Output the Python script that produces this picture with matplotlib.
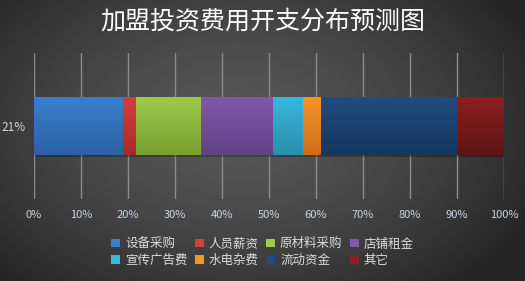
import numpy as np
import matplotlib
matplotlib.use("Agg")
import matplotlib.pyplot as plt
from matplotlib.colors import LinearSegmentedColormap, to_rgb

plt.rcParams['font.family'] = ['Noto Sans CJK SC', 'DejaVu Sans']

category = ["21%"]
series = ["设备采购", "人员薪资", "原材料采购", "店铺租金", "宣传广告费", "水电杂费", "流动资金", "其它"]
values = [19.0, 2.6, 13.9, 15.3, 6.4, 3.8, 29.1, 9.9]
top_colors = ["#3b7fcc", "#d63f3a", "#a0ca4c", "#8158aa", "#3bb8dc", "#f7952a", "#1f4d7f", "#8a211f"]
bot_colors = ["#2c62a4", "#a82b29", "#77a032", "#5f4286", "#2a8fac", "#d06c1b", "#16365f", "#5e1514"]
xticks = [0, 10, 20, 30, 40, 50, 60, 70, 80, 90, 100]
xtick_labels = [f"{t}%" for t in xticks]
title = "加盟投资费用开支分布预测图"

W, H = 525, 281
fig = plt.figure(figsize=(W / 100, H / 100), dpi=100)

# radial gradient background
bg = fig.add_axes([0, 0, 1, 1])
yy, xx = np.mgrid[0:H, 0:W]
r = np.sqrt(((xx - W * 0.45) / (W * 0.62)) ** 2 + ((yy - H * 0.45) / (H * 0.75)) ** 2)
r = np.clip(r, 0, 1)
inner = np.array(to_rgb("#575757"))
outer = np.array(to_rgb("#262626"))
img = inner[None, None, :] * (1 - r[..., None] ** 1.5) + outer[None, None, :] * (r[..., None] ** 1.5)
bg.imshow(img, extent=[0, 1, 0, 1], aspect="auto", zorder=0)
bg.axis("off")

ax = fig.add_axes([34 / W, 1 - 199 / H, 470 / W, 146 / H])
ax.patch.set_alpha(0)
left = 0
bar_h = 0.4
# subtle shadow under the bar
ax.barh(-0.015, sum(values), left=0.3, height=bar_h, color="black", alpha=0.25, zorder=2, linewidth=0)
handles = []
for name, v, ct, cb in zip(series, values, top_colors, bot_colors):
    bars = ax.barh(0, v, left=left, height=bar_h, color=ct, label=name, zorder=3, linewidth=0)
    handles.append(bars)
    p = bars[0]
    cmap = LinearSegmentedColormap.from_list("g", [cb, ct])
    grad = np.linspace(0, 1, 64).reshape(-1, 1)
    im = ax.imshow(grad, cmap=cmap, aspect="auto", origin="lower",
                   extent=[left, left + v, -bar_h / 2, bar_h / 2], zorder=4)
    im.set_clip_path(p)
    left += v

ax.set_xlim(0, 100)
ax.set_ylim(-0.5, 0.5)
ax.set_xticks(xticks)
ax.set_xticklabels(xtick_labels, color="#c9d6e6", fontsize=8)
ax.set_yticks([0])
ax.set_yticklabels(category, color="#c9d6e6", fontsize=8.5)
ax.tick_params(axis="x", length=0, pad=8)
ax.tick_params(axis="y", length=0, pad=6)
ax.grid(axis="x", color="#8c8c8c", linewidth=1, zorder=1)
for s in ax.spines.values():
    s.set_visible(False)

fig.text(0.5, 1 - 22 / H, title, ha="center", va="center", color="white", fontsize=18)

order = [0, 4, 1, 5, 2, 6, 3, 7]
leg = fig.legend([handles[i] for i in order], [series[i] for i in order], ncol=4, loc="center",
                 bbox_to_anchor=(0.5, 1 - 252 / H),
                 frameon=False, fontsize=9, labelcolor="#dcdcdc", handlelength=0.7,
                 handleheight=0.7, handletextpad=0.4, columnspacing=0.6, labelspacing=0.25)

fig.savefig("out.png", dpi=100)
